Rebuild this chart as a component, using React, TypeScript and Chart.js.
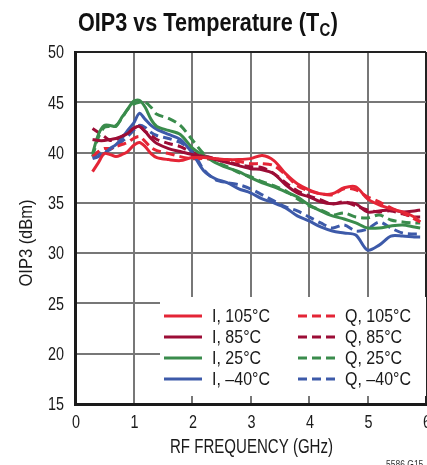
import React, { useEffect, useRef } from "react";
import { Chart, registerables } from "chart.js";

Chart.register(...registerables);

const FONT = "'Liberation Sans', Arial, sans-serif";

const freqGHz = [0.3, 0.4, 0.5, 0.6, 0.7, 0.8, 0.9, 1.0, 1.1, 1.2, 1.3, 1.4, 1.6, 1.8, 2.0, 2.2, 2.4, 2.6, 2.8, 3.0, 3.2, 3.4, 3.6, 3.8, 4.0, 4.2, 4.4, 4.6, 4.8, 5.0, 5.2, 5.4, 5.6, 5.8, 5.9];

const i105 = [38.1, 39.0, 39.9, 39.8, 39.6, 39.8, 40.1, 40.7, 41.0, 40.6, 39.9, 39.5, 39.3, 39.2, 39.5, 39.5, 39.4, 39.3, 39.3, 39.4, 39.7, 39.2, 37.9, 36.9, 36.3, 35.9, 35.9, 36.5, 36.6, 35.4, 34.8, 34.4, 34.1, 33.6, 33.1];
const q105 = [39.6, 40.1, 40.4, 40.4, 40.6, 40.8, 41.0, 41.4, 41.6, 41.1, 40.5, 40.2, 39.9, 39.6, 39.4, 39.4, 39.3, 39.2, 39.1, 38.9, 38.9, 38.7, 37.8, 36.7, 36.2, 35.9, 35.8, 36.4, 36.3, 35.6, 35.1, 34.5, 34.0, 33.4, 33.1];
const i85 = [41.3, 41.2, 41.2, 41.3, 41.4, 41.6, 41.9, 42.4, 42.6, 42.1, 41.4, 40.9, 40.4, 40.1, 39.8, 39.6, 39.3, 39.0, 38.7, 38.4, 38.3, 37.9, 36.8, 36.0, 35.6, 35.1, 34.9, 35.0, 34.9, 34.1, 34.2, 34.3, 34.1, 34.2, 34.3];
const q85 = [42.4, 42.0, 41.6, 41.2, 41.3, 41.6, 42.0, 42.4, 42.6, 42.1, 41.7, 41.3, 40.9, 40.6, 40.0, 39.7, 39.4, 39.1, 38.8, 38.6, 38.5, 37.9, 37.0, 36.2, 35.7, 35.3, 34.9, 35.1, 34.7, 34.3, 34.1, 34.2, 33.9, 33.6, 33.6];
const i25 = [39.9, 41.8, 42.7, 42.7, 42.6, 43.5, 44.3, 45.1, 45.2, 44.5, 43.3, 42.6, 42.2, 41.8, 40.5, 39.7, 39.0, 38.5, 38.1, 37.5, 37.0, 36.6, 36.1, 35.6, 34.8, 34.2, 33.7, 33.4, 33.0, 32.5, 32.5, 32.7, 32.8, 32.6, 32.5];
const q25 = [39.6, 41.5, 42.5, 42.6, 42.7, 43.4, 44.3, 44.8, 45.0, 45.0, 44.5, 43.8, 43.4, 42.7, 41.3, 39.9, 39.1, 38.6, 38.0, 37.6, 37.1, 36.7, 36.2, 35.4, 34.7, 34.3, 33.8, 34.0, 33.6, 33.5, 33.8, 33.3, 33.1, 33.0, 33.0];
const im40 = [39.4, 39.6, 39.9, 40.4, 40.8, 41.4, 42.2, 42.9, 43.9, 43.3, 42.7, 42.3, 41.8, 41.3, 40.0, 38.2, 37.4, 37.0, 36.4, 36.0, 35.4, 35.0, 34.5, 33.7, 33.2, 32.6, 32.2, 32.0, 31.8, 30.3, 30.8, 31.7, 31.7, 31.6, 31.6];
const qm40 = [39.6, 39.9, 40.1, 40.3, 40.7, 41.1, 41.6, 42.2, 42.7, 42.5, 42.0, 41.7, 41.4, 41.0, 40.2, 38.3, 37.3, 37.0, 36.8, 36.4, 35.8, 35.2, 34.6, 34.2, 33.6, 33.0, 32.5, 32.8, 32.2, 32.4, 33.1, 32.5, 32.0, 31.9, 31.9];

const xTicks = [0, 1, 2, 3, 4, 5, 6];
const yTicks = [15, 20, 25, 30, 35, 40, 45, 50];

const RED = "#e42536";
const DARKRED = "#9c0d36";
const GREEN = "#3a8c4c";
const BLUE = "#3d5aa9";
const DASH = [9, 5];

const W = 427;
const H = 465;
const AREA = { left: 75, right: 426, top: 52, bottom: 404 };
const LEGEND_BOX = { left: 160, top: 297, right: 426, bottom: 396 };
const TEXT = "#1a1a1a";

// draw horizontally condensed text; align: 'left' | 'center' | 'right'
function drawCondensed(ctx: CanvasRenderingContext2D, text: string, x: number, y: number, sx: number, align: string) {
  const w = ctx.measureText(text).width * sx;
  let left = x;
  if (align === "center") left = x - w / 2;
  else if (align === "right") left = x - w;
  ctx.save();
  ctx.translate(left, y);
  ctx.scale(sx, 1);
  ctx.textAlign = "left";
  ctx.fillText(text, 0, 0);
  ctx.restore();
}

const textPlugin = {
  id: "textAndLegend",
  beforeDatasetsDraw(chart: any) {
    const ctx = chart.ctx;
    ctx.save();
    ctx.fillStyle = "#ffffff";
    ctx.fillRect(LEGEND_BOX.left, LEGEND_BOX.top, LEGEND_BOX.right - LEGEND_BOX.left, LEGEND_BOX.bottom - LEGEND_BOX.top);
    ctx.restore();
  },
  afterDraw(chart: any) {
    const ctx: CanvasRenderingContext2D = chart.ctx;
    ctx.save();
    ctx.fillStyle = TEXT;

    // tick labels via the chart's scales
    ctx.font = `19px ${FONT}`;
    ctx.textBaseline = "middle";
    const digitSx = 8 / ctx.measureText("0").width;
    const xs = chart.scales.x;
    const ys = chart.scales.y;
    xTicks.forEach((v) => drawCondensed(ctx, String(v), xs.getPixelForValue(v) + 1, 423, digitSx, "center"));
    yTicks.forEach((v) => drawCondensed(ctx, String(v), 64, ys.getPixelForValue(v) + 1, digitSx, "right"));

    // legend
    const ds = chart.data.datasets;
    ctx.font = `18px ${FONT}`;
    const legSx = 58 / ctx.measureText("I, 105°C").width;
    const rowY = [316, 337, 358, 379];
    ds.forEach((d: any, i: number) => {
      const col = i < 4 ? 0 : 1;
      const row = i % 4;
      const x0 = col === 0 ? 164 : 298;
      const x1 = col === 0 ? 202 : 336;
      const tx = col === 0 ? 212 : 345;
      const y = rowY[row];
      ctx.strokeStyle = d.borderColor;
      ctx.lineWidth = 3;
      ctx.setLineDash(d.borderDash || []);
      ctx.beginPath();
      ctx.moveTo(x0, y);
      ctx.lineTo(x1, y);
      ctx.stroke();
      ctx.setLineDash([]);
      drawCondensed(ctx, d.label, tx, y + 1, legSx, "left");
    });

    // axis titles
    ctx.font = `20px ${FONT}`;
    const xt = "RF FREQUENCY (GHz)";
    drawCondensed(ctx, xt, 251.5, 447, 163 / ctx.measureText(xt).width, "center");
    ctx.font = `18px ${FONT}`;
    const yt = "OIP3 (dBm)";
    const ySx = 87 / ctx.measureText(yt).width;
    ctx.save();
    ctx.translate(27, 243);
    ctx.rotate(-Math.PI / 2);
    drawCondensed(ctx, yt, 0, 0, ySx, "center");
    ctx.restore();

    // chart title with subscript
    ctx.textBaseline = "alphabetic";
    ctx.fillStyle = "#111";
    const mainFont = `bold 26px ${FONT}`;
    const subFont = `bold 18px ${FONT}`;
    const p1 = "OIP3 vs Temperature (T";
    const p2 = "C";
    const p3 = ")";
    ctx.font = mainFont;
    const w1 = ctx.measureText(p1).width;
    const w3 = ctx.measureText(p3).width;
    ctx.font = subFont;
    const w2 = ctx.measureText(p2).width;
    const tSx = 260 / (w1 + w2 + w3 + 1);
    ctx.save();
    ctx.translate(78, 31);
    ctx.scale(tSx, 1);
    ctx.textAlign = "left";
    ctx.font = mainFont;
    ctx.fillText(p1, 0, 0);
    ctx.font = subFont;
    ctx.fillText(p2, w1 + 0.5, 5);
    ctx.font = mainFont;
    ctx.fillText(p3, w1 + w2 + 1, 0);
    ctx.restore();

    // footnote
    ctx.font = `10px ${FONT}`;
    ctx.textBaseline = "top";
    ctx.fillStyle = "#333";
    drawCondensed(ctx, "5586 G15", 386, 460, 0.85, "left");
    ctx.restore();
  },
};

function makeDataset(label: string, values: number[], color: string, dashed: boolean) {
  return {
    label,
    data: freqGHz.map((f, i) => ({ x: f, y: values[i] })),
    borderColor: color,
    backgroundColor: color,
    borderWidth: 3,
    borderDash: dashed ? DASH : [],
    pointRadius: 0,
    tension: 0.3,
    fill: false,
  };
}

export default function App() {
  const ref = useRef<HTMLCanvasElement | null>(null);
  useEffect(() => {
    if (!ref.current) return;
    const chart = new Chart(ref.current, {
      type: "line",
      data: {
        datasets: [
          makeDataset("I, 105°C", i105, RED, false),
          makeDataset("I, 85°C", i85, DARKRED, false),
          makeDataset("I, 25°C", i25, GREEN, false),
          makeDataset("I, –40°C", im40, BLUE, false),
          makeDataset("Q, 105°C", q105, RED, true),
          makeDataset("Q, 85°C", q85, DARKRED, true),
          makeDataset("Q, 25°C", q25, GREEN, true),
          makeDataset("Q, –40°C", qm40, BLUE, true),
        ],
      },
      options: {
        animation: false,
        responsive: false,
        maintainAspectRatio: false,
        layout: { autoPadding: false, padding: { top: AREA.top, right: W - AREA.right, bottom: 0, left: 0 } },
        plugins: { legend: { display: false }, title: { display: false }, tooltip: { enabled: false } },
        scales: {
          x: {
            type: "linear",
            min: 0,
            max: 6,
            afterFit: (s: any) => { s.height = H - AREA.bottom; },
            afterBuildTicks: (s: any) => { s.ticks = xTicks.map((v) => ({ value: v })); },
            ticks: { display: false },
            grid: {
              drawTicks: false,
              color: (c: any) => (c.tick && c.tick.value === 6 ? "#222" : "#777777"),
              lineWidth: 2,
            },
            border: { display: true, color: "#1a1a1a", width: 3 },
          },
          y: {
            type: "linear",
            min: 15,
            max: 50,
            afterFit: (s: any) => { s.width = AREA.left; },
            afterBuildTicks: (s: any) => { s.ticks = yTicks.map((v) => ({ value: v })); },
            ticks: { display: false },
            grid: {
              drawTicks: false,
              color: (c: any) => (c.tick && c.tick.value === 50 ? "#222" : "#777777"),
              lineWidth: 2,
            },
            border: { display: true, color: "#1a1a1a", width: 3 },
          },
        },
      },
      plugins: [textPlugin],
    } as any);
    return () => chart.destroy();
  }, []);

  return (
    <div style={{ position: "fixed", left: 0, top: 0, width: W, height: H, background: "#fff", overflow: "hidden" }}>
      <canvas ref={ref} width={W} height={H} style={{ position: "absolute", left: 0, top: 0, width: W, height: H }} />
    </div>
  );
}
